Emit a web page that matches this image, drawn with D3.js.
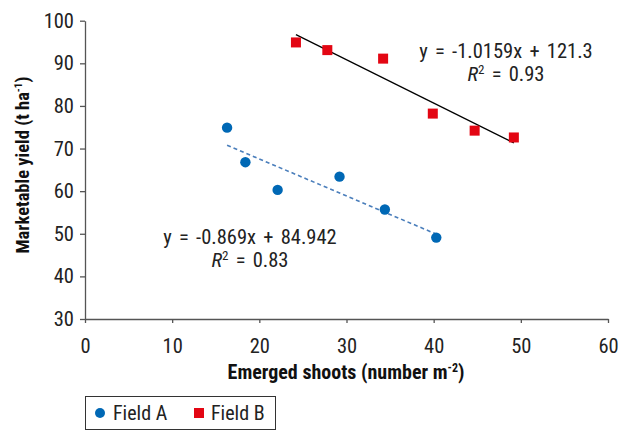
<!DOCTYPE html>
<html>
<head>
<meta charset="utf-8">
<script src="https://cdn.jsdelivr.net/npm/d3@7"></script>
<style>
  body { margin: 0; background: #fff; }
  svg text { font-family: "Liberation Sans Narrow", "Roboto Condensed", "Arial Narrow", sans-serif; }
</style>
</head>
<body>
<div id="chart"></div>
<script>
// values
const fieldA_x = [16.3, 18.4, 22.1, 29.2, 34.4, 40.3];
const fieldA_y = [74.9, 66.8, 60.3, 63.4, 55.7, 49.1];
const fieldB_x = [24.2, 27.8, 34.2, 39.9, 44.7, 49.2];
const fieldB_y = [94.9, 93.1, 91.1, 78.2, 74.2, 72.6];

// trendline equations as printed on the chart
const fitA = { slope: -0.869, intercept: 84.942, r2: "0.83", label: "y = -0.869x + 84.942" };
const fitB = { slope: -1.0159, intercept: 121.3, r2: "0.93", label: "y = -1.0159x + 121.3" };

const xTicks = [0, 10, 20, 30, 40, 50, 60];
const yTicks = [30, 40, 50, 60, 70, 80, 90, 100];

const width = 627, height = 430;
const svg = d3.select("#chart").append("svg")
    .attr("width", width).attr("height", height);

const x = d3.scaleLinear().domain([0, 60]).range([85, 608]);
const y = d3.scaleLinear().domain([30, 100]).range([319, 20.7]);

const axisColor = "#555";
const blue = "#0068b5", red = "#e30613";

// axes
const xAxis = svg.append("g")
    .attr("transform", `translate(0,${y(30)})`)
    .call(d3.axisBottom(x).tickValues(xTicks).tickSize(4).tickSizeOuter(0).tickPadding(8));
const yAxis = svg.append("g")
    .attr("transform", `translate(${x(0)},0)`)
    .call(d3.axisLeft(y).tickValues(yTicks).tickSize(5).tickSizeOuter(0).tickPadding(6));

[xAxis, yAxis].forEach(g => {
    g.select(".domain").attr("stroke", axisColor).attr("stroke-width", 1.3);
    g.selectAll(".tick line").attr("stroke", axisColor).attr("stroke-width", 1.3);
    g.selectAll(".tick text")
        .attr("fill", "#222")
        .attr("font-size", "20.5px")
        .style("font-family", "'Liberation Sans Narrow', 'Roboto Condensed', sans-serif");
});
xAxis.selectAll(".tick text").attr("dy", "1.05em");

// axis titles
const xTitle = svg.append("text")
    .attr("x", 346).attr("y", 379)
    .attr("text-anchor", "middle")
    .attr("font-size", "20px").attr("font-weight", "bold")
    .attr("fill", "#111");
xTitle.append("tspan").text("Emerged shoots (number m");
xTitle.append("tspan").attr("dy", "-7").attr("font-size", "12px").text("-2");
xTitle.append("tspan").attr("dy", "7").text(")");

const yTitle = svg.append("text")
    .attr("transform", `translate(29,165) rotate(-90)`)
    .attr("text-anchor", "middle")
    .attr("font-size", "18.5px").attr("font-weight", "bold")
    .attr("fill", "#111");
yTitle.append("tspan").text("Marketable yield (t ha");
yTitle.append("tspan").attr("dy", "-7").attr("font-size", "11px").text("-1");
yTitle.append("tspan").attr("dy", "7").text(")");

// trendlines over the range of each series
function trend(xs, fit) {
    const x0 = d3.min(xs), x1 = d3.max(xs);
    return [[x0, fit.slope * x0 + fit.intercept], [x1, fit.slope * x1 + fit.intercept]];
}
const line = d3.line().x(d => x(d[0])).y(d => y(d[1]));

svg.append("path")
    .attr("d", line(trend(fieldA_x, fitA)))
    .attr("stroke", "#4a7ebb").attr("stroke-width", 1.6)
    .attr("stroke-dasharray", "4,3").attr("fill", "none");

svg.append("path")
    .attr("d", line(trend(fieldB_x, fitB)))
    .attr("stroke", "#000").attr("stroke-width", 1.3)
    .attr("fill", "none");

// markers
svg.append("g").selectAll("circle")
    .data(fieldA_x.map((v, i) => [v, fieldA_y[i]]))
    .join("circle")
    .attr("cx", d => x(d[0])).attr("cy", d => y(d[1]))
    .attr("r", 5.2).attr("fill", blue);

const sq = 10;
svg.append("g").selectAll("rect")
    .data(fieldB_x.map((v, i) => [v, fieldB_y[i]]))
    .join("rect")
    .attr("x", d => x(d[0]) - sq / 2).attr("y", d => y(d[1]) - sq / 2)
    .attr("width", sq).attr("height", sq).attr("fill", red);

// equation labels (spaces widened around = and +)
function eqLabel(cx, cy, fit) {
    svg.append("text")
        .attr("x", cx).attr("y", cy)
        .attr("text-anchor", "middle")
        .attr("font-size", "20.5px").attr("fill", "#222")
        .attr("word-spacing", "2.5px")
        .text(fit.label);
    const r = svg.append("text")
        .attr("x", cx).attr("y", cy + 23)
        .attr("text-anchor", "middle")
        .attr("font-size", "20.5px").attr("fill", "#222")
        .attr("word-spacing", "2.5px");
    r.append("tspan").attr("font-style", "italic").text("R");
    r.append("tspan").attr("dy", "-7").attr("font-size", "13px").text("2");
    r.append("tspan").attr("dy", "7").text(" = " + fit.r2);
}
eqLabel(506, 57.5, fitB);
eqLabel(250, 243.5, fitA);

// legend
const legend = svg.append("g");
legend.append("rect")
    .attr("x", 85.5).attr("y", 396.5).attr("width", 190).attr("height", 33)
    .attr("fill", "#fff").attr("stroke", "#333").attr("stroke-width", 1);
legend.append("circle").attr("cx", 100).attr("cy", 413).attr("r", 5).attr("fill", blue);
legend.append("text").attr("x", 113).attr("y", 420)
    .attr("font-size", "20px").attr("fill", "#222").text("Field A");
legend.append("rect").attr("x", 194).attr("y", 408).attr("width", 10).attr("height", 10).attr("fill", red);
legend.append("text").attr("x", 211).attr("y", 420)
    .attr("font-size", "20px").attr("fill", "#222").text("Field B");
</script>
</body>
</html>
